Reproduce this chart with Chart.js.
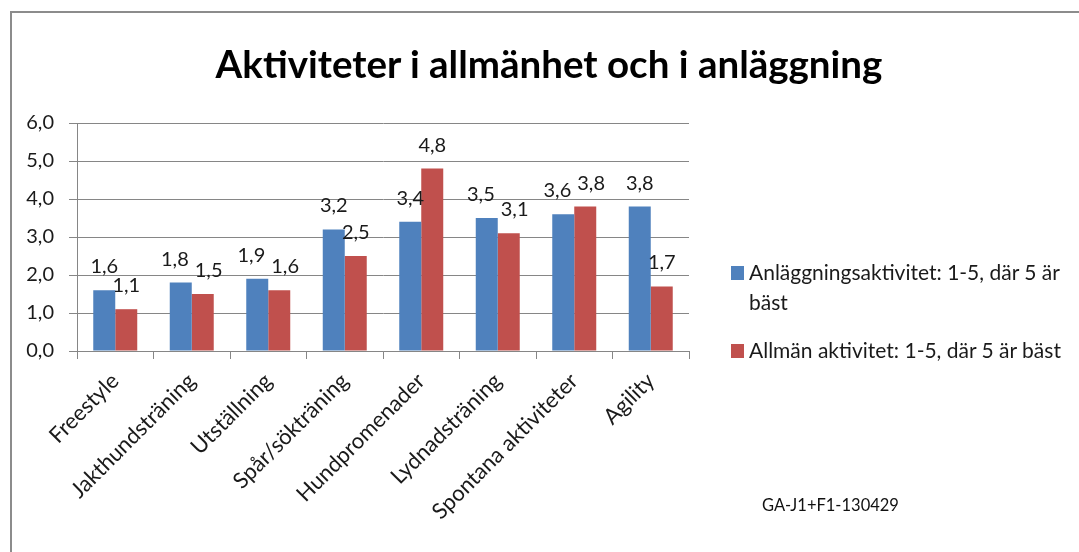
<!DOCTYPE html>
<html>
<head>
<meta charset="utf-8">
<script src="https://cdn.jsdelivr.net/npm/chart.js@4.4.1/dist/chart.umd.min.js"></script>
<style>
  html, body { margin: 0; padding: 0; width: 1079px; height: 552px; overflow: hidden; background: #fff; font-family: Lato, sans-serif; }
  #frame { position: absolute; left: 10px; top: 11px; width: 1200px; height: 700px; border: 2px solid #8c8c8c; box-sizing: border-box; }
  #c { position: absolute; left: 0; top: 0; }
  #title { position: absolute; left: 0; width: 1098px; top: 44px; text-align: center; font-weight: bold; font-size: 38.5px; line-height: 38px; color: #000; white-space: nowrap; }
  .leg { position: absolute; left: 749px; width: 330px; font-size: 21px; line-height: 30px; color: #1a1a1a; }
  .sw { position: absolute; left: 731px; width: 13px; height: 14px; }
  #note { position: absolute; left: 762px; top: 495px; font-size: 16.5px; line-height: 20px; color: #111; white-space: nowrap; }
</style>
</head>
<body>
<div id="frame"></div>
<canvas id="c" width="1079" height="552"></canvas>
<div id="title"></div>
<div id="legend"></div>
<div id="note"></div>
<script>
// ---- data ----
const categories = ['Freestyle', 'Jakthundsträning', 'Utställning', 'Spår/sökträning', 'Hundpromenader', 'Lydnadsträning', 'Spontana aktiviteter', 'Agility'];
const seriesNames = ['Anläggningsaktivitet: 1-5, där 5 är bäst', 'Allmän aktivitet: 1-5, där 5 är bäst'];
const anlaggning = [1.6, 1.8, 1.9, 3.2, 3.4, 3.5, 3.6, 3.8];
const allman = [1.1, 1.5, 1.6, 2.5, 4.8, 3.1, 3.8, 1.7];
const yTicks = [0, 1, 2, 3, 4, 5, 6];
const seriesColors = ['#4F81BD', '#C0504D'];
const titleText = 'Aktiviteter i allmänhet och i anläggning';
const noteText = 'GA-J1+F1-130429';

const fmt = v => Number(v).toFixed(1).replace('.', ',');

// ---- text elements ----
document.getElementById('title').textContent = titleText;
document.getElementById('note').textContent = noteText;
const legendTops = [257, 335];
const legend = document.getElementById('legend');
seriesNames.forEach((name, i) => {
  const sw = document.createElement('div');
  sw.className = 'sw';
  sw.style.top = (legendTops[i] + 9) + 'px';
  sw.style.background = seriesColors[i];
  legend.appendChild(sw);
  const t = document.createElement('div');
  t.className = 'leg';
  t.style.top = legendTops[i] + 'px';
  t.textContent = name;
  legend.appendChild(t);
});

// ---- value labels plugin ----
const valueLabels = {
  id: 'valueLabels',
  afterDatasetsDraw(chart) {
    const ctx = chart.ctx;
    ctx.save();
    ctx.font = '20px Lato';
    ctx.fillStyle = '#1a1a1a';
    ctx.textAlign = 'center';
    ctx.textBaseline = 'alphabetic';
    const n = chart.data.labels.length;
    for (let i = 0; i < n; i++) {
      const items = chart.data.datasets.map((ds, d) => {
        const el = chart.getDatasetMeta(d).data[i];
        const t = fmt(ds.data[i]);
        return { t, x: el.x, y: el.y - 17, w: ctx.measureText(t).width };
      });
      for (let k = 1; k < items.length; k++) {
        const a = items[k - 1], b = items[k];
        if (Math.abs(a.y - b.y) < 17) {
          const overlap = (a.x + a.w / 2) - (b.x - b.w / 2) + 6;
          if (overlap > 0) { a.x -= overlap / 2; b.x += overlap / 2; }
        }
      }
      items.forEach(it => ctx.fillText(it.t, it.x, it.y));
    }
    ctx.restore();
  }
};

const gridColor = '#868686';
const textColor = '#1a1a1a';

new Chart(document.getElementById('c'), {
  type: 'bar',
  data: {
    labels: categories,
    datasets: [
      { label: seriesNames[0], data: anlaggning, backgroundColor: seriesColors[0] },
      { label: seriesNames[1], data: allman, backgroundColor: seriesColors[1] }
    ]
  },
  options: {
    responsive: false,
    animation: false,
    devicePixelRatio: 1,
    layout: { padding: { left: 11, top: 123, right: 390, bottom: 1 } },
    datasets: { bar: { categoryPercentage: 0.575, barPercentage: 1.0 } },
    plugins: { legend: { display: false }, title: { display: false }, tooltip: { enabled: false } },
    scales: {
      x: {
        grid: { drawOnChartArea: false, color: gridColor, tickLength: 8, offset: true },
        border: { color: gridColor, width: 1 },
        ticks: { autoSkip: false, minRotation: 45, maxRotation: 45, padding: 9, color: textColor, font: { family: 'Lato', size: 22 } },
        afterFit: s => { s.height = 200; }
      },
      y: {
        min: yTicks[0],
        max: yTicks[yTicks.length - 1],
        grid: { color: gridColor, tickLength: 8 },
        border: { color: gridColor, width: 1 },
        ticks: { padding: 15, color: textColor, font: { family: 'Lato', size: 20 }, callback: v => fmt(v) },
        afterBuildTicks: s => { s.ticks = yTicks.map(v => ({ value: v })); },
        afterFit: s => { s.width = 66; }
      }
    }
  },
  plugins: [valueLabels]
});
</script>
</body>
</html>
